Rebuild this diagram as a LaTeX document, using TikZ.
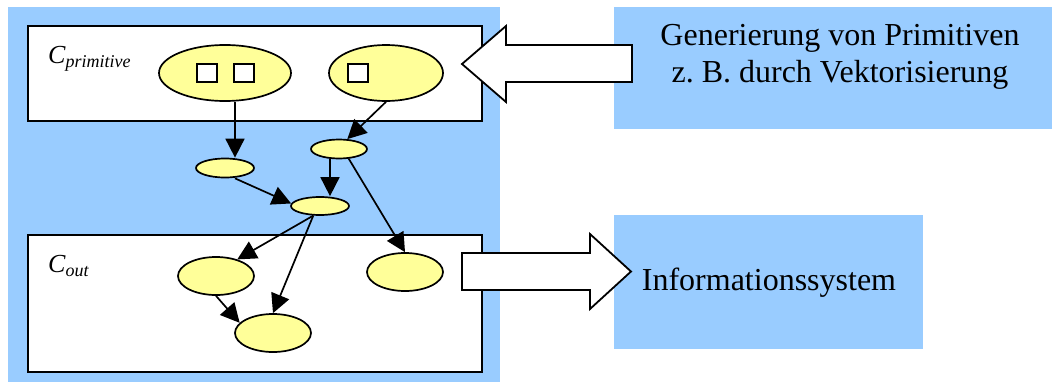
\documentclass[tikz,border=0pt]{standalone}
\usepackage{fontspec}
\setmainfont{Liberation Serif}
\usetikzlibrary{shapes.geometric,arrows.meta}
\definecolor{paneblue}{HTML}{99CCFF}
\definecolor{nodeyellow}{HTML}{FFFF99}
\begin{document}
\begin{tikzpicture}[x=1pt,y=-1pt,
  panel/.style={fill=paneblue,draw=none,inner sep=0pt,anchor=north west},
  layer/.style={draw=black,line width=1.8pt,fill=white,inner sep=0pt,anchor=north west},
  blob/.style={ellipse,draw=black,line width=1.7pt,fill=nodeyellow,inner sep=0pt},
  cell/.style={draw=black,line width=1.7pt,fill=white,inner sep=0pt,minimum width=20pt,minimum height=18pt},
  link/.style={line width=1.7pt,-{Triangle[length=19pt,width=19pt]}},
  bigarrow/.style={draw=black,line width=1.8pt,fill=white,line join=miter},
  big/.style={font=\fontsize{32}{37}\selectfont,inner sep=0pt},
  setname/.style={font=\fontsize{26}{26}\selectfont\itshape,inner sep=0pt,anchor=base west},
]
\useasboundingbox (0,0) rectangle (1052,383);

% background panels
\node[panel,minimum width=492pt,minimum height=375pt] (pane) at (8,7) {};
\node[panel,minimum width=438pt,minimum height=122pt] (genbox) at (614,7) {};
\node[panel,minimum width=309pt,minimum height=134pt] (infobox) at (614,215) {};

% the two layers
\node[layer,minimum width=454pt,minimum height=95pt] (prim) at (27,25) {};
\node[layer,minimum width=454pt,minimum height=137pt] (out) at (27,234) {};

% block arrows
\draw[bigarrow] (462,64) -- (506,26) -- (506,45) -- (632,45) -- (632,82)
  -- (506,82) -- (506,102) -- cycle;
\draw[bigarrow] (462,253) -- (590,253) -- (590,234) -- (631,271.5) -- (590,309)
  -- (590,290) -- (462,290) -- cycle;

% texts
\node[big,align=center,anchor=base] (gentext) at (840,82)
  {Generierung von Primitiven\\z.\ B. durch Vektorisierung};
\node[big,anchor=base] (infotext) at (769,290) {Informationssystem};
\node[setname] (cprim) at (48,63)
  {C\raisebox{-4.5pt}{\fontsize{18}{18}\selectfont primitive}};
\node[setname] (cout) at (48,272)
  {C\raisebox{-4pt}{\fontsize{18}{18}\selectfont out}};

% primitives
\node[blob,minimum width=132pt,minimum height=56pt] (p1) at (225,73) {};
\node[blob,minimum width=114pt,minimum height=56pt] (p2) at (386,73) {};
\node[cell] (s1) at (207,73) {};
\node[cell] (s2) at (244,73) {};
\node[cell] (s3) at (358,73) {};

% intermediate nodes
\node[blob,minimum width=58pt,minimum height=19pt] (a) at (225,168) {};
\node[blob,minimum width=56pt,minimum height=19pt] (b) at (339,149) {};
\node[blob,minimum width=58pt,minimum height=18pt] (c) at (320,206) {};

% output nodes
\node[blob,minimum width=76pt,minimum height=38pt] (d) at (216,276) {};
\node[blob,minimum width=76pt,minimum height=38pt] (e) at (405,272) {};
\node[blob,minimum width=76pt,minimum height=38pt] (f) at (273,333) {};

% connectors
\draw[link] ([xshift=10pt]p1.south) -- ([xshift=10pt]a.north);
\draw[link] (p2.south) -- (b.50);
\draw[link] ([xshift=-9pt]b.south) -- ([xshift=10pt]c.north);
\draw[link] ([xshift=10pt]a.south) -- (c.175);
\draw[link] (b.-45) -- (e.north);
\draw[link] (c.-125) -- (d.38);
\draw[link] (c.-125) -- (f.north);
\draw[link] (d.south) -- (f.163);
\end{tikzpicture}
\end{document}
